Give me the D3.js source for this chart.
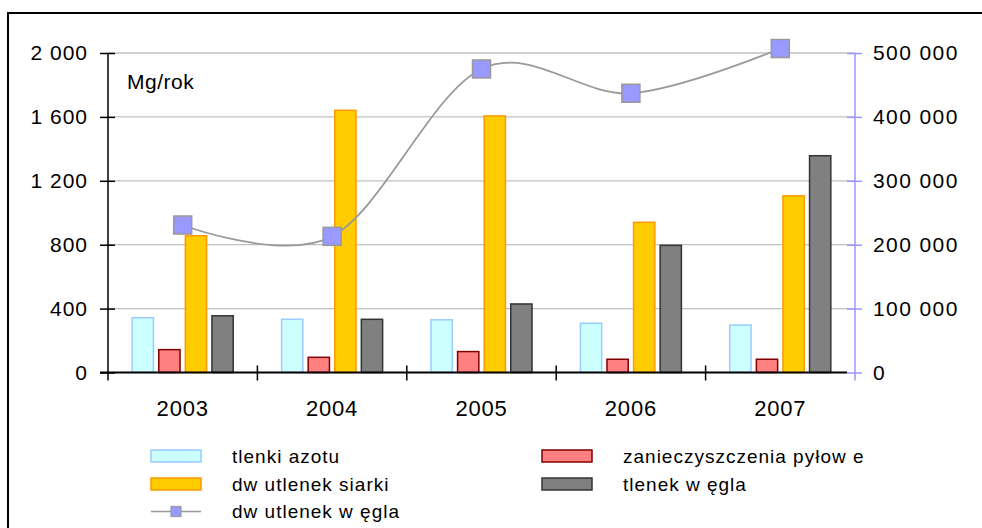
<!DOCTYPE html>
<html>
<head>
<meta charset="utf-8">
<script src="https://cdn.jsdelivr.net/npm/d3@7"></script>
<style>
  html, body { margin: 0; padding: 0; background: #fff; overflow: hidden; }
  svg { display: block; font-family: "Liberation Sans", Arial, sans-serif; }
</style>
</head>
<body>
<svg id="chart" width="982" height="528"></svg>
<script>
// ---- data ----
const years = ["2003", "2004", "2005", "2006", "2007"];
const tlenkiAzotu = [343, 333, 330, 308, 297];
const zanieczyszczeniaPylowe = [143, 95, 131, 83, 83];
const dwutlenekSiarki = [856, 1641, 1606, 940, 1106];
const tlenekWegla = [355, 333, 429, 796, 1357];
const dwutlenekWegla = [230800, 213100, 475000, 437000, 507000];
const leftTicks = [0, 400, 800, 1200, 1600, 2000];
const rightTicks = [0, 100000, 200000, 300000, 400000, 500000];
const barSeriesNames = ["tlenki azotu", "zanieczyszczenia pyłow e", "dw utlenek siarki", "tlenek w ęgla"];
const lineSeriesName = "dw utlenek w ęgla";
const unitLabel = "Mg/rok";

const barSeries = [
  { name: barSeriesNames[0], values: tlenkiAzotu, fill: "#CCFFFF", stroke: "#99CCFF" },
  { name: barSeriesNames[1], values: zanieczyszczeniaPylowe, fill: "#FF8080", stroke: "#800000" },
  { name: barSeriesNames[2], values: dwutlenekSiarki, fill: "#FFCC00", stroke: "#FF9900" },
  { name: barSeriesNames[3], values: tlenekWegla, fill: "#808080", stroke: "#333333" }
];

const svg = d3.select("#chart");
const plot = { left: 108, right: 855, top: 53, bottom: 372.5 };
const locale = d3.formatLocale({ decimal: ",", thousands: "\u00a0", grouping: [3], currency: ["", ""] });
const fmt = locale.format(",d");

// frame (only top and left edges are visible in the window)
svg.append("line").attr("x1", 8).attr("x2", 982).attr("y1", 13).attr("y2", 13)
  .attr("stroke", "#000").attr("stroke-width", 2);
svg.append("line").attr("x1", 8).attr("x2", 8).attr("y1", 12).attr("y2", 528)
  .attr("stroke", "#000").attr("stroke-width", 2);

const x0 = d3.scaleBand().domain(years).range([plot.left, plot.right]).padding(0);
const x1 = d3.scaleBand().domain(d3.range(barSeries.length))
  .range([0, x0.bandwidth()]).paddingInner(0.2).paddingOuter(0.91);
const yL = d3.scaleLinear().domain([0, 2000]).range([plot.bottom, plot.top]);
const yR = d3.scaleLinear().domain([0, 500000]).range([plot.bottom, plot.top]);

// gridlines
svg.append("g").selectAll("line").data(leftTicks.filter(d => d > 0)).join("line")
  .attr("x1", plot.left).attr("x2", plot.right)
  .attr("y1", d => yL(d)).attr("y2", d => yL(d))
  .attr("stroke", "#C0C0C0").attr("stroke-width", 1.3);

// bars
const groups = svg.append("g").selectAll("g").data(years).join("g")
  .attr("transform", d => `translate(${x0(d)},0)`);
groups.selectAll("rect").data((d, i) => barSeries.map((s, k) => ({ k, v: s.values[i], s })))
  .join("rect")
  .attr("x", d => x1(d.k))
  .attr("width", x1.bandwidth())
  .attr("y", d => yL(d.v))
  .attr("height", d => yL(0) - yL(d.v))
  .attr("fill", d => d.s.fill)
  .attr("stroke", d => d.s.stroke)
  .attr("stroke-width", 1.5);

// left axis
const axL = svg.append("g").attr("transform", `translate(${plot.left},0)`)
  .call(d3.axisLeft(yL).tickValues(leftTicks).tickFormat(fmt).tickSize(8).tickPadding(12));
axL.select(".domain").remove();
axL.selectAll(".tick line").attr("x2", -8).attr("x1", 7).attr("stroke", "#000").attr("stroke-width", 1.5);
axL.selectAll(".tick text").attr("font-size", 21).attr("letter-spacing", 1).attr("fill", "#000")
  .attr("font-family", "Liberation Sans, Arial, sans-serif");
svg.append("line").attr("x1", plot.left).attr("x2", plot.left).attr("y1", plot.top).attr("y2", plot.bottom + 8)
  .attr("stroke", "#000").attr("stroke-width", 1.5);

// right axis
const axR = svg.append("g").attr("transform", `translate(${plot.right},0)`)
  .call(d3.axisRight(yR).tickValues(rightTicks).tickFormat(fmt).tickSize(7).tickPadding(11));
axR.select(".domain").remove();
axR.selectAll(".tick line").attr("x1", -8).attr("x2", 7).attr("stroke", "#9999FF").attr("stroke-width", 1.5);
axR.selectAll(".tick text").attr("font-size", 21).attr("letter-spacing", 1.4).attr("fill", "#000")
  .attr("font-family", "Liberation Sans, Arial, sans-serif");
svg.append("line").attr("x1", plot.right).attr("x2", plot.right).attr("y1", plot.top).attr("y2", plot.bottom + 8)
  .attr("stroke", "#9999FF").attr("stroke-width", 1.5);

// x axis
svg.append("line").attr("x1", plot.left - 8).attr("x2", plot.right - 8).attr("y1", plot.bottom).attr("y2", plot.bottom)
  .attr("stroke", "#000").attr("stroke-width", 2);
const boundaries = years.slice(1).map(y => x0(y));
svg.append("g").selectAll("line").data(boundaries).join("line")
  .attr("x1", d => d).attr("x2", d => d).attr("y1", plot.bottom - 7).attr("y2", plot.bottom + 8)
  .attr("stroke", "#000").attr("stroke-width", 1.5);
svg.append("g").selectAll("text").data(years).join("text")
  .attr("x", d => x0(d) + x0.bandwidth() / 2).attr("y", 416)
  .attr("text-anchor", "middle").attr("font-size", 22).attr("letter-spacing", 0.8).attr("fill", "#000").text(d => d);

// unit label
svg.append("text").attr("x", 127).attr("y", 89).attr("font-size", 21).attr("letter-spacing", 0.5)
  .attr("fill", "#000").text(unitLabel);

// line series
const cx = d => x0(d) + x0.bandwidth() / 2;
const lineGen = d3.line().x(d => cx(d.year)).y(d => yR(d.v)).curve(d3.curveCardinal.tension(0));
const linePts = years.map((y, i) => ({ year: y, v: dwutlenekWegla[i] }));
svg.append("path").datum(linePts).attr("d", lineGen)
  .attr("fill", "none").attr("stroke", "#999999").attr("stroke-width", 1.8);
svg.append("g").selectAll("rect").data(linePts).join("rect")
  .attr("x", d => cx(d.year) - 9).attr("y", d => yR(d.v) - 9)
  .attr("width", 18).attr("height", 18)
  .attr("fill", "#9999FF").attr("stroke", "#999999").attr("stroke-width", 1.5);

// legend
const legendItems = [
  { s: barSeries[0], x: 151, y: 456 },
  { s: barSeries[1], x: 542, y: 456 },
  { s: barSeries[2], x: 151, y: 484 },
  { s: barSeries[3], x: 542, y: 484 }
];
const leg = svg.append("g");
legendItems.forEach(it => {
  leg.append("rect").attr("x", it.x).attr("y", it.y - 6).attr("width", 50).attr("height", 12)
    .attr("fill", it.s.fill).attr("stroke", it.s.stroke).attr("stroke-width", 1.5);
  leg.append("text").attr("x", it.x + 81).attr("y", it.y + 6.5).attr("font-size", 19).attr("letter-spacing", 1)
    .attr("fill", "#000").text(it.s.name);
});
leg.append("line").attr("x1", 151).attr("x2", 201).attr("y1", 511.5).attr("y2", 511.5)
  .attr("stroke", "#999999").attr("stroke-width", 1.5);
leg.append("rect").attr("x", 171).attr("y", 506.5).attr("width", 10).attr("height", 10)
  .attr("fill", "#9999FF").attr("stroke", "#999999").attr("stroke-width", 1.2);
leg.append("text").attr("x", 232).attr("y", 518).attr("font-size", 19).attr("letter-spacing", 1)
  .attr("fill", "#000").text(lineSeriesName);
</script>
</body>
</html>
